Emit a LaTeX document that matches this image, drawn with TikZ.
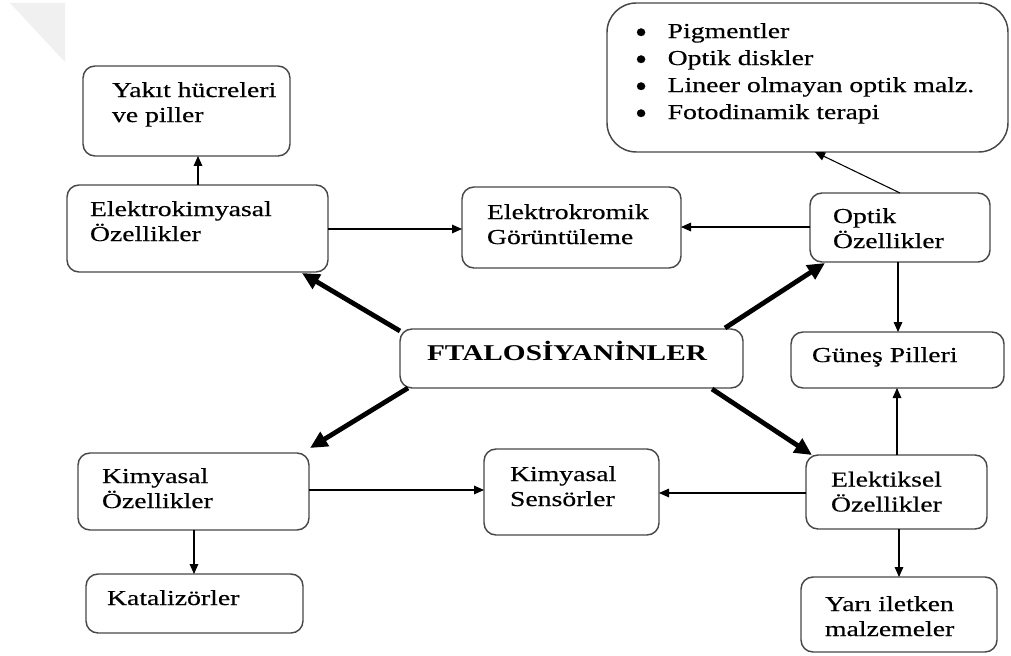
\documentclass[tikz,border=0pt]{standalone}
\usepackage{fontspec}
\setmainfont{Liberation Serif}[FakeStretch=1.3, UprightFeatures={FakeBold=0.4}]
\usetikzlibrary{arrows.meta,fit,calc}

\definecolor{boxgray}{RGB}{72,72,72}
\newcommand\st{\rule{0pt}{13pt}}
\newcommand\bul{\makebox[24.5pt][l]{\smash{\raisebox{-3.6pt}{\scalebox{1.25}[1.5]{\textbullet}}}}}

\tikzset{
  box/.style={draw=boxgray, line width=1.1pt, rounded corners=9pt, fill=white,
    inner sep=0pt, outer sep=0pt},
  bigbox/.style={box, rounded corners=22pt},
  lbl/.style={anchor=north west, inner sep=0pt, outer sep=0pt, align=left,
    font=\fontsize{16}{18.75}\selectfont},
  listlbl/.style={lbl, font=\fontsize{16}{20.25}\selectfont},
  titlelbl/.style={anchor=base west, inner sep=0pt, outer sep=0pt,
    font=\fontsize{16.9}{20}\selectfont\bfseries},
  thinarrow/.style={draw=black, line width=0.8pt,
    -{Triangle[length=7.5pt,width=6.5pt]}},
  thickarrow/.style={draw=black, line width=3.6pt,
    -{Triangle[length=13pt,width=12pt]}},
}

\begin{document}
\begin{tikzpicture}[x=0.75pt,y=-0.75pt]
\useasboundingbox (0,0) rectangle (1011,656);

% folded page corner
\fill[gray!12] (10,3) -- (65,3) -- (65,62) -- cycle;

% boxes
\node[box, fit={(83,66)(290,156)}]    (yak)   {};
\node[box, fit={(67,185)(328,272)}]   (ekim)  {};
\node[box, fit={(462,187)(681,268)}]  (ekrom) {};
\node[box, fit={(810,193)(990,262)}]  (opt)   {};
\node[bigbox, fit={(607,3)(1008,152)}] (list) {};
\node[box, fit={(400,329)(743,388)}]  (ft)    {};
\node[box, fit={(791,332)(1004,388)}] (gun)   {};
\node[box, fit={(78,453)(309,530)}]   (kimoz) {};
\node[box, fit={(86,574)(303,633)}]   (kat)   {};
\node[box, fit={(484,449)(659,535)}]  (sens)  {};
\node[box, fit={(806,455)(987,529)}]  (elek)  {};
\node[box, fit={(801,577)(997,652)}]  (yari)  {};

% texts
\node[lbl] (tyak)   at (112,79.7)  {\st Yakıt hücreleri\\ve piller};
\node[lbl] (tekim)  at (90,198.7)  {\st Elektrokimyasal\\Özellikler};
\node[lbl] (tekrom) at (487,201.7) {\st Elektrokromik\\Görüntüleme};
\node[lbl] (topt)   at (833,205.7) {\st Optik\\Özellikler};
\node[listlbl] (tlist) at (635,20.7) {%
  \st\bul Pigmentler\\
  \bul Optik diskler\\
  \bul Lineer olmayan optik malz.\\
  \bul Fotodinamik terapi};
\node[titlelbl] (tft) at (427,360) {FTALOSİYANİNLER};
\node[lbl] (tgun)   at (812,344.7) {\st Güneş Pilleri};
\node[lbl] (tkimoz) at (102,465.7) {\st Kimyasal\\Özellikler};
\node[lbl] (tkat)   at (107,587.7) {\st Katalizörler};
\node[lbl] (tsens)  at (510,463.7) {\st Kimyasal\\Sensörler};
\node[lbl] (telek)  at (831,469.2) {\st Elektiksel\\Özellikler};
\node[lbl] (tyari)  at (825,593.7) {\st Yarı iletken\\malzemeler};

% guide lines for the straight connectors
\coordinate (c194) at (194,0);
\coordinate (c198) at (198,0);
\coordinate (c815) at (815,0);
\coordinate (c897) at (897,0);
\coordinate (c898) at (898,0);
\coordinate (c899) at (899,0);
\coordinate (c900) at (900,0);
\coordinate (r227) at (0,227);
\coordinate (r229) at (0,229);
\coordinate (r490) at (0,490);
\coordinate (r493) at (0,493);

% thin connectors
\draw[thinarrow] (ekim.north -| c198) -- (yak.south -| c198);
\draw[thinarrow] (ekim.east |- r229) -- (ekrom.west |- r229);
\draw[thinarrow] (opt.west |- r227) -- (ekrom.east |- r227);
\draw[thinarrow] (opt.north -| c900) -- (list.south -| c815);
\draw[thinarrow] (opt.south -| c898) -- (gun.north -| c898);
\draw[thinarrow] (elek.north -| c897) -- (gun.south -| c897);
\draw[thinarrow] (elek.south -| c899) -- (yari.north -| c899);
\draw[thinarrow] (elek.west |- r493) -- (sens.east |- r493);
\draw[thinarrow] (kimoz.east |- r490) -- (sens.west |- r490);
\draw[thinarrow] (kimoz.south -| c194) -- (kat.north -| c194);

% thick connectors from the centre
\draw[thickarrow] ($(ft.north west)+(0,2)$) -- ($(ekim.south east)+(-26,1)$);
\draw[thickarrow] ($(ft.south west)+(8,0)$) -- ($(kimoz.north east)+(1,-5)$);
\draw[thickarrow] ($(ft.north east)+(-18,-1)$) -- ($(opt.south west)+(15,1)$);
\draw[thickarrow] ($(ft.south east)+(-31,1)$) -- ($(elek.north west)+(6,0)$);
\end{tikzpicture}
\end{document}
